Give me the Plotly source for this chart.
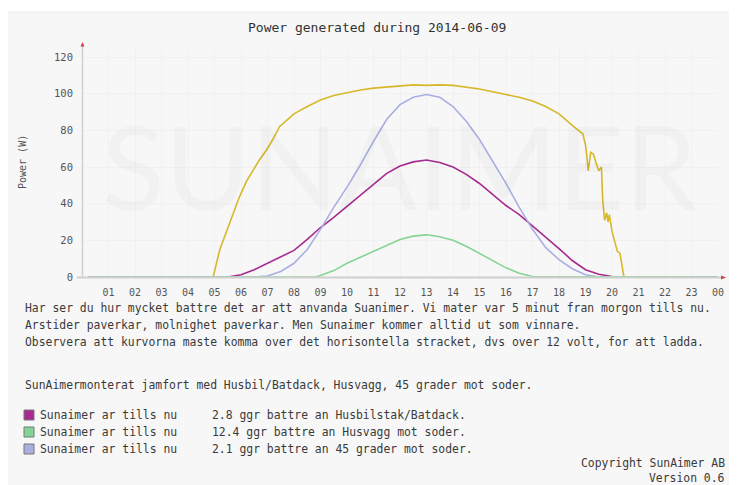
import plotly.graph_objects as go

# ---------------- data ----------------
tick_labels = ["01", "02", "03", "04", "05", "06", "07", "08", "09", "10", "11", "12",
               "13", "14", "15", "16", "17", "18", "19", "20", "21", "22", "23", "00"]
tick_hours = list(range(1, 25))

yellow_h = [0.25, 4.95, 5.2, 5.45, 5.7, 5.95, 6.2, 6.45, 6.7, 6.95, 7.2, 7.45, 7.7, 8.0, 8.25,
            8.5, 9.0, 9.5, 10.0, 10.5, 11.0, 11.5, 12.0, 12.5, 13.0, 13.5, 14.0, 14.5, 15.0,
            15.5, 16.0, 16.5, 17.0, 17.5, 18.0, 18.3, 18.6, 18.9, 19.0, 19.05, 19.1, 19.2,
            19.3, 19.4, 19.5, 19.6, 19.65, 19.72, 19.8, 19.85, 19.9, 20.0, 20.1, 20.2, 20.3,
            20.4, 20.45, 24.0]
yellow_v = [0, 0, 15, 25, 34, 44, 52, 58, 64, 69, 75, 82, 85, 89, 91,
            93, 96.5, 99, 100.5, 102, 103, 103.5, 104, 104.8, 104.5, 104.8, 104.5, 103.5, 102.5,
            101, 99.5, 98, 96, 93, 89, 85, 81.5, 78, 72, 66, 58, 68,
            67, 62, 58, 60, 42, 31, 35, 30, 34, 25, 20, 14, 13,
            3, 0, 0]

magenta_h = [0.25, 5.5, 6.0, 6.5, 7.0, 7.5, 8.0, 8.5, 9.0, 9.5, 10.0, 10.5, 11.0, 11.5, 12.0,
             12.5, 13.0, 13.5, 14.0, 14.5, 15.0, 15.5, 16.0, 16.5, 17.0, 17.5, 18.0, 18.5,
             19.0, 19.5, 20.0, 20.3, 24.0]
magenta_v = [0, 0, 1.2, 4, 7.5, 11, 14.5, 20.5, 27, 32.5, 38.5, 44.5, 51, 56.5, 60.5,
             62.8, 63.8, 62.5, 60, 56, 51, 45, 39, 34, 28, 21.5, 15.5, 9,
             4, 1.5, 0.3, 0, 0]

blue_h = [0.25, 6.5, 7.0, 7.5, 8.0, 8.5, 9.0, 9.5, 10.0, 10.5, 11.0, 11.5, 12.0, 12.5, 13.0,
          13.5, 14.0, 14.5, 15.0, 15.5, 16.0, 16.5, 17.0, 17.5, 18.0, 18.5, 19.0, 19.5, 24.0]
blue_v = [0, 0, 0.5, 3, 7.5, 15, 26, 38, 49, 61, 74, 86, 94, 98, 99.5,
          98, 93, 85, 75, 63, 51, 38, 26, 16, 9.5, 4.5, 1.2, 0, 0]

green_h = [0.25, 8.8, 9.0, 9.5, 10.0, 10.5, 11.0, 11.5, 12.0, 12.5, 13.0, 13.5, 14.0, 14.5,
           15.0, 15.5, 16.0, 16.5, 17.0, 24.0]
green_v = [0, 0, 0.8, 3.5, 7.5, 10.8, 14, 17.5, 20.5, 22.3, 23, 22, 20, 16.8,
           13, 9, 5, 2, 0.3, 0]

title_text = "Power generated during 2014-06-09"
y_title = "Power (W)"
info_lines = [
    "Har ser du hur mycket battre det ar att anvanda Suanimer. Vi mater var 5 minut fran morgon tills nu.",
    "Arstider paverkar, molnighet paverkar. Men Sunaimer kommer alltid ut som vinnare.",
    "Observera att kurvorna maste komma over det horisontella stracket, dvs over 12 volt, for att ladda.",
]
compare_line = "SunAimermonterat jamfort med Husbil/Batdack, Husvagg, 45 grader mot soder."
legend_left = ["Sunaimer ar tills nu", "Sunaimer ar tills nu", "Sunaimer ar tills nu"]
legend_right = ["2.8 ggr battre an Husbilstak/Batdack.",
                "12.4 ggr battre an Husvagg mot soder.",
                "2.1 ggr battre an 45 grader mot soder."]
footer = ["Copyright SunAimer AB", "Version 0.6"]

# ---------------- styling ----------------
OFF = 8                      # page body margin
W, H = 737 - OFF, 485 - OFF  # figure size
L, R, T, B = 82, 718, 46, 277  # plot area in page px
MONO = "DejaVu Sans Mono"
C_YEL = "#d6b82a"
C_MAG = "#a72a90"
C_BLU = "#a9afe2"
C_GRN = "#86d494"


def X(px):
    return (px - L) / (R - L)


def Y(py):
    return (B - py) / (B - T)


fig = go.Figure()
for h, v, c in [(yellow_h, yellow_v, C_YEL), (magenta_h, magenta_v, C_MAG),
                (blue_h, blue_v, C_BLU), (green_h, green_v, C_GRN)]:
    fig.add_trace(go.Scatter(x=h, y=v, mode="lines", line=dict(color=c, width=1.6),
                             hoverinfo="skip", showlegend=False))

shapes = []
shapes.append(dict(type="rect", xref="paper", yref="paper", x0=X(7), x1=X(734), y0=Y(12), y1=Y(495),
                   fillcolor="#f7f7f7", line=dict(color="#ececec", width=1), layer="below"))
shapes.append(dict(type="line", xref="paper", yref="paper", x0=X(82.5), x1=X(82.5), y0=Y(278), y1=Y(44),
                   line=dict(color="#cfcfcf", width=1.5)))
shapes.append(dict(type="line", xref="paper", yref="paper", x0=X(77), x1=X(722), y0=Y(277.5), y1=Y(277.5),
                   line=dict(color="#cfcfcf", width=2)))
shapes.append(dict(type="path", xref="paper", yref="paper",
                   path=f"M {X(82.5)} {Y(42)} L {X(80.5)} {Y(46.5)} L {X(84.5)} {Y(46.5)} Z",
                   fillcolor="#d0404a", line=dict(width=0)))
shapes.append(dict(type="path", xref="paper", yref="paper",
                   path=f"M {X(726)} {Y(277.5)} L {X(721)} {Y(275.5)} L {X(721)} {Y(279.5)} Z",
                   fillcolor="#d0404a", line=dict(width=0)))
sq_colors = [C_MAG, C_GRN, C_BLU]
leg_y = [415, 432, 449]
for c, yy in zip(sq_colors, leg_y):
    shapes.append(dict(type="rect", xref="paper", yref="paper", x0=X(24), x1=X(34),
                       y0=Y(yy + 5), y1=Y(yy - 5), fillcolor=c, line=dict(color="#777", width=1)))

ann = []
ann.append(dict(text="SUNAIMER", xref="paper", yref="paper", x=X(400), y=Y(165), showarrow=False,
                font=dict(family="Lato", size=116, color="rgba(0,0,0,0.025)"),
                xanchor="center", yanchor="middle"))
ann.append(dict(text=title_text, xref="paper", yref="paper", x=X(377), y=Y(28), showarrow=False,
                font=dict(family=MONO, size=13, color="#333"), xanchor="center", yanchor="middle"))
ann.append(dict(text=y_title, xref="paper", yref="paper", x=X(22), y=Y(162), showarrow=False,
                textangle=-90, font=dict(family=MONO, size=10, color="#555"),
                xanchor="center", yanchor="middle"))
txt_font = dict(family=MONO, size=11.4, color="#3a3a3a")
for line, yy in zip(info_lines, [308, 325, 342]):
    ann.append(dict(text=line, xref="paper", yref="paper", x=X(23), y=Y(yy), showarrow=False,
                    font=txt_font, xanchor="left", yanchor="middle"))
ann.append(dict(text=compare_line, xref="paper", yref="paper", x=X(23), y=Y(385), showarrow=False,
                font=txt_font, xanchor="left", yanchor="middle"))
for a, b, yy in zip(legend_left, legend_right, leg_y):
    ann.append(dict(text=a, xref="paper", yref="paper", x=X(38), y=Y(yy), showarrow=False,
                    font=txt_font, xanchor="left", yanchor="middle"))
    ann.append(dict(text=b, xref="paper", yref="paper", x=X(210), y=Y(yy), showarrow=False,
                    font=txt_font, xanchor="left", yanchor="middle"))
for t, yy in zip(footer, [463, 478]):
    ann.append(dict(text=t, xref="paper", yref="paper", x=X(727), y=Y(yy), showarrow=False,
                    font=txt_font, xanchor="right", yanchor="middle"))

fig.update_layout(
    width=W, height=H,
    margin=dict(l=L - OFF, r=W - (R - OFF), t=T - OFF, b=H - (B - OFF), pad=0),
    paper_bgcolor="white", plot_bgcolor="white",
    shapes=shapes, annotations=ann, showlegend=False,
    xaxis=dict(range=[0, 24], tickmode="array", tickvals=tick_hours, ticktext=tick_labels,
               showgrid=True, gridcolor="#f1f1f1", gridwidth=1, zeroline=False, showline=False,
               ticks="", tickfont=dict(family=MONO, size=10, color="#555"), ticklabelstandoff=8,
               fixedrange=True),
    yaxis=dict(range=[0, 126], tickmode="array", tickvals=[0, 20, 40, 60, 80, 100, 120],
               showgrid=True, gridcolor="#f1f1f1", zeroline=False, showline=False,
               ticks="", tickfont=dict(family=MONO, size=10.5, color="#555"), ticklabelstandoff=8,
               fixedrange=True),
)

fig.write_html("out.html")
